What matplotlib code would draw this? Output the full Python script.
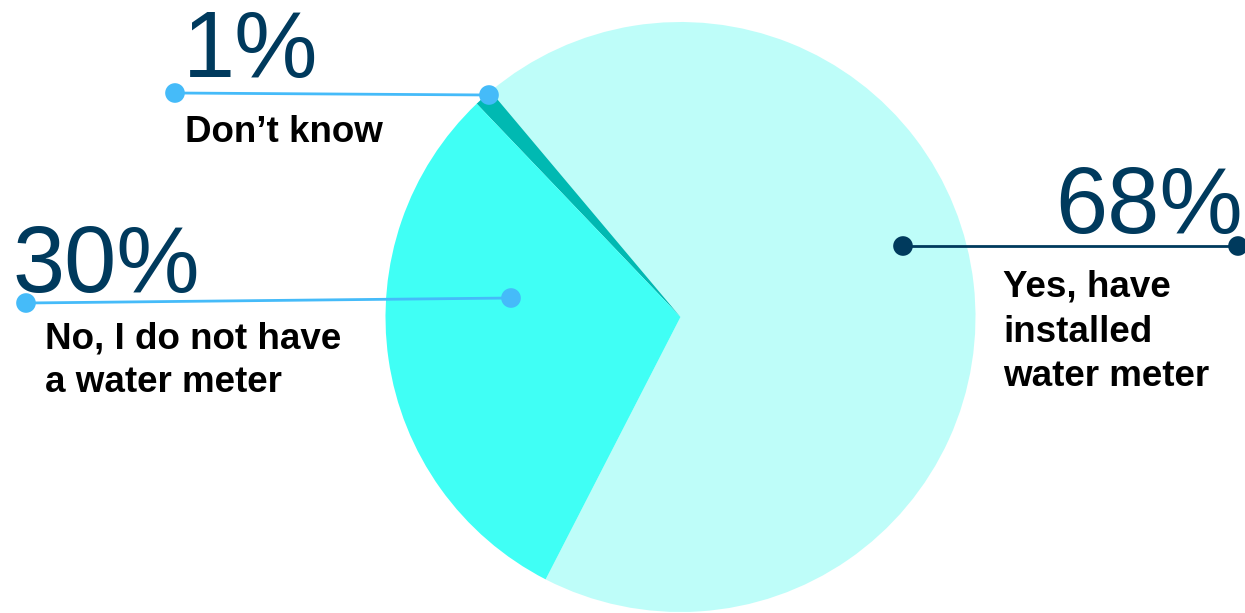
import matplotlib
matplotlib.use("Agg")
import matplotlib.pyplot as plt

# Survey answers: share of respondents (percent)
categories = ["Yes, have\ninstalled\nwater meter", "Don't know", "No, I do not have\na water meter"]
values = [68, 1, 30]
slice_colors = ["#BEFDF9", "#00B9B2", "#40FFF5"]

W, H = 1245, 613
plt.rcParams["font.family"] = ["Liberation Sans", "DejaVu Sans"]

fig = plt.figure(figsize=(W / 100, H / 100), dpi=100)
ax = fig.add_axes([0, 0, 1, 1])

def up(y):
    """convert a top-down pixel row to the axis' bottom-up coordinate"""
    return H - y

ax.pie(values, colors=slice_colors, startangle=242.8, counterclock=True,
       center=(680.5, up(317)), radius=295,
       wedgeprops=dict(linewidth=0))

NAVY = "#003A5D"
LIGHT = "#45BBF9"

# callout layout: (left dot, right dot, line colour, number pos, number align, label pos)
callouts = {
    0: dict(p0=(903, 246), p1=(1238, 246), color=NAVY,
            num=(1243, 233), ha="right", lab=(1003, 297)),
    1: dict(p0=(175, 93), p1=(489, 95), color=LIGHT,
            num=(183, 77), ha="left", lab=(185, 142)),
    2: dict(p0=(26, 303), p1=(511, 298), color=LIGHT,
            num=(12, 292), ha="left", lab=(45, 348)),
}

line_gap = 44.5
for i, (cat, val) in enumerate(zip(categories, values)):
    c = callouts[i]
    (x0, y0), (x1, y1) = c["p0"], c["p1"]
    ax.plot([x0, x1], [up(y0), up(y1)], color=c["color"], lw=2.0,
            solid_capstyle="butt", zorder=3)
    ax.scatter([x0, x1], [up(y0), up(y1)], s=200, color=c["color"],
               edgecolors="none", zorder=4)
    nx, ny = c["num"]
    ax.text(nx, up(ny), f"{val}%", fontsize=67.5, color=NAVY,
            ha=c["ha"], va="baseline", zorder=5)
    lx, ly = c["lab"]
    for k, line in enumerate(cat.split("\n")):
        ax.text(lx, up(ly + k * line_gap), line.replace("'", "\u2019"),
                fontsize=26.5, fontweight="bold", color="black",
                ha="left", va="baseline", zorder=5)

ax.set_xlim(0, W)
ax.set_ylim(0, H)
ax.set_aspect("auto")
ax.axis("off")

fig.savefig("out.png", dpi=100, facecolor="white")
